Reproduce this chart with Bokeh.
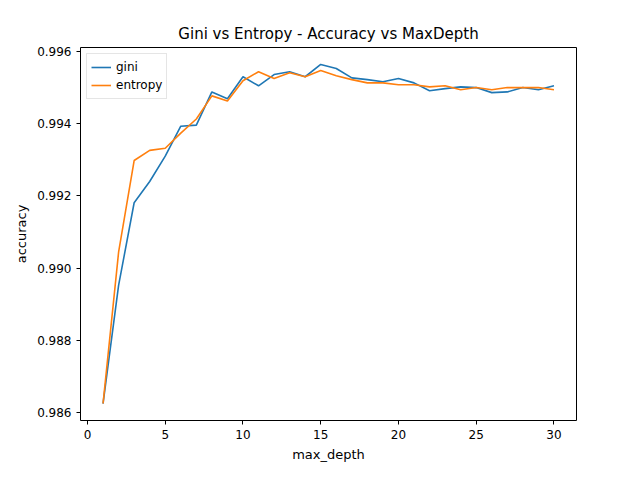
from bokeh.plotting import figure
from bokeh.models import FixedTicker, NumeralTickFormatter, Range1d
from bokeh.embed import file_html
from bokeh.resources import INLINE

depth = list(range(1, 31))
gini = [0.98625, 0.98952, 0.99181, 0.99240, 0.99310, 0.99393, 0.99396, 0.99488, 0.99469, 0.99530,
        0.99505, 0.99536, 0.99544, 0.99530, 0.99564, 0.99553, 0.99527, 0.99522, 0.99516, 0.99525,
        0.99513, 0.99491, 0.99497, 0.99502, 0.99500, 0.99486, 0.99488, 0.99500, 0.99494, 0.99505]
entropy = [0.98625, 0.99044, 0.99298, 0.99326, 0.99332, 0.99374, 0.99413, 0.99477, 0.99463, 0.99519,
           0.99544, 0.99525, 0.99541, 0.99530, 0.99547, 0.99533, 0.99522, 0.99513, 0.99513, 0.99508,
           0.99508, 0.99502, 0.99505, 0.99494, 0.99500, 0.99494, 0.99500, 0.99500, 0.99500, 0.99494]

p = figure(width=624, height=464, title="Gini vs Entropy - Accuracy vs MaxDepth",
           x_range=Range1d(-0.45, 31.45), y_range=Range1d(0.98578, 0.99611),
           x_axis_label="max_depth", y_axis_label="accuracy",
           output_backend="svg", toolbar_location=None,
           min_border_left=80, min_border_right=48, min_border_top=47, min_border_bottom=37)

p.title.align = "center"
p.title.text_font = "DejaVu Sans"
p.title.text_font_size = "15px"
p.title.text_font_style = "normal"
p.title.text_color = "black"
p.outline_line_color = "black"
p.grid.visible = False

for ax in (p.xaxis, p.yaxis):
    ax.axis_label_text_font = "DejaVu Sans"
    ax.axis_label_text_font_size = "13px"
    ax.axis_label_text_font_style = "normal"
    ax.axis_label_text_color = "black"
    ax.major_label_text_font = "DejaVu Sans"
    ax.major_label_text_font_size = "12px"
    ax.major_label_text_color = "black"
    ax.minor_tick_line_color = None
    ax.major_tick_line_color = "black"
    ax.major_tick_out = 4
    ax.major_tick_in = 0
    ax.axis_line_color = None

p.xaxis.ticker = FixedTicker(ticks=[0, 5, 10, 15, 20, 25, 30])
p.yaxis.ticker = FixedTicker(ticks=[0.986, 0.988, 0.990, 0.992, 0.994, 0.996])
p.yaxis.formatter = NumeralTickFormatter(format="0.000")

p.line(depth, gini, line_color="#1f77b4", line_width=1.6, legend_label="gini")
p.line(depth, entropy, line_color="#ff7f0e", line_width=1.6, legend_label="entropy")

p.legend.location = "top_left"
p.legend.label_text_font = "DejaVu Sans"
p.legend.label_text_font_size = "12px"
p.legend.label_text_color = "black"
p.legend.border_line_color = "#cccccc"
p.legend.spacing = 0
p.legend.padding = 4
p.legend.label_height = 18
p.legend.glyph_height = 18
p.legend.margin = 6

open("out.html", "w").write(file_html(p, INLINE))
